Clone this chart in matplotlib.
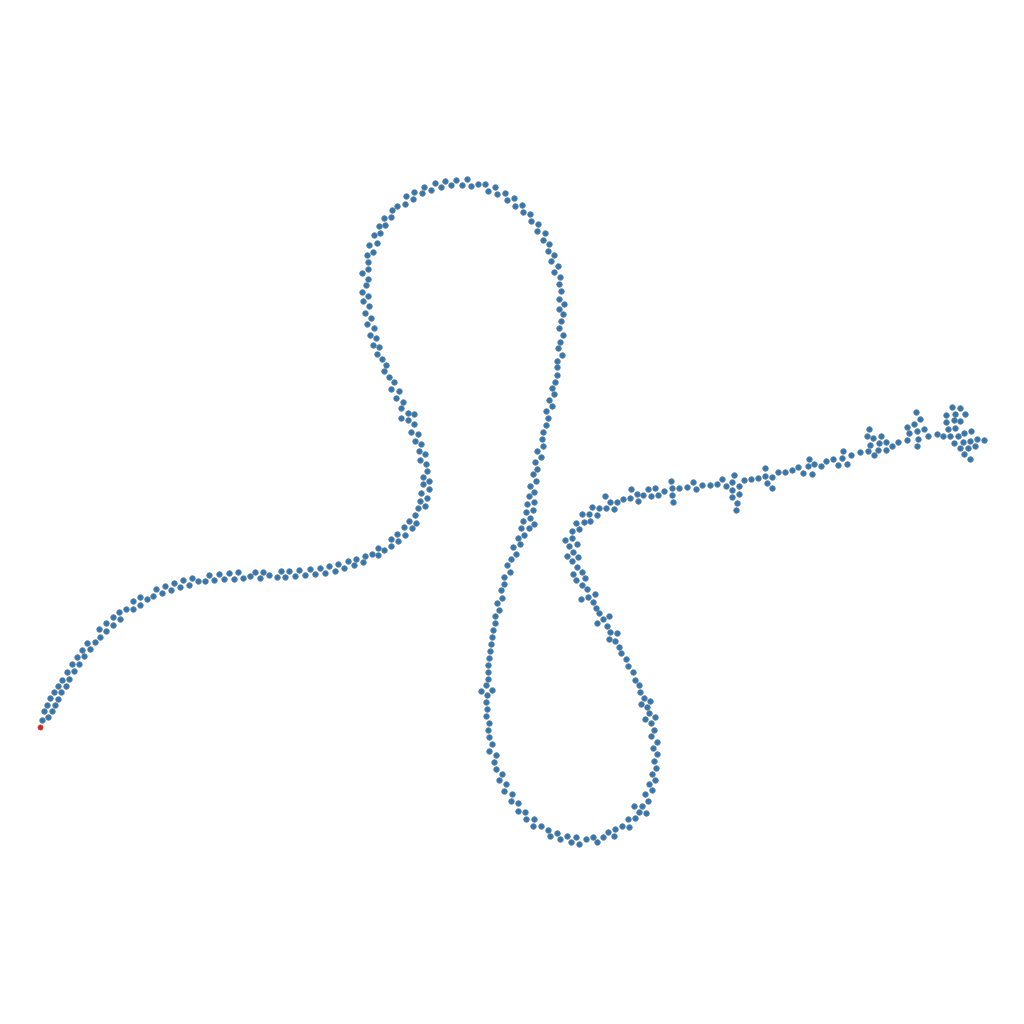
import matplotlib
matplotlib.use("Agg")
import matplotlib.pyplot as plt

# node positions (pixel-like units, y grows downward)
start_x = [40.0]
start_y = [727.3]

node_x = [
    # left tail
    42.3, 48.3, 44, 52.3, 47.3, 55.3, 50.3, 58.3, 54, 61.3, 57.7, 66, 62.3, 69.3, 66.7, 74.3,
    72, 79.3, 77.3, 84.3, 82.3, 90.3, 87.3, 95.3, 100, 99.3, 106.3, 106.3, 113.3, 112.7, 120.3,
    119.3, 126.3, 133.3, 133.3, 140.3, 140.3, 147.3, 153.3, 156.3, 162.3, 165.3, 171.3, 174.3,
    180.3, 183.3, 189.3, 192.3, 198.3, 205.3, 209.3, 214.3, 219.3, 224.3, 229,
    234.3, 238.3, 243.3, 250.3, 255.3, 260.3, 263.3, 269.3, 277.3, 281, 285.3, 289.3, 295.3,
    299.3, 305.3, 310.3, 315.3, 320.3, 325.3, 329.3, 335.3, 338.3, 344.3, 348.3, 354.3, 356.3,
    363.3, 365.3, 372.3, 378.3, 378.3, 384.3, 391.3, 391.3, 398.3, 397.3, 405.3, 404.3, 412.3,
    409.3, 416.3, 415.3, 418.3, 425.3, 420.3, 427.3, 421.3, 429.3, 423.3, 429.3,
    # left bulge
    423.3, 427.3, 426.3, 420.3, 425.3, 419, 421.3, 415.3, 418.3, 411.3, 414.3, 408.3, 401.3,
    414.3, 408.3, 401.3, 403.3,
    396.3, 391.3, 399.3, 394.3, 389.3, 384.3, 386.3, 382.3, 377.3, 379.3, 373.3, 376.3, 370.3,
    374.3, 367.3, 371.3, 365.3, 369.3, 363.3, 368.3, 362.3,
    # top loop
    366.3, 368.3, 362.3, 368.3, 368.3, 367.3, 373.3, 369.3, 376.7, 374.3, 380.3, 379.3, 385.3,
    384.3, 391.3, 392.3, 397.3, 405.3, 406.3, 413.3, 414.3, 421.7, 424.3, 431.3, 435.3, 441.3,
    445.3, 451.3, 456.3, 462.3, 467.3, 471.3, 478.3, 485.3, 488.3, 495.3, 497.3, 505.3, 507.3,
    514.3, 515.3, 522.3, 523.3, 530.3, 531.3, 538.3, 537.3, 544.7, 543.3, 549.3, 548.3, 554.3,
    551.3, 558.3, 554.3, 560, 559.3,
    561, 559, 564, 559, 563.3, 561, 559.3, 563.3, 560, 558, 562, 557, 557, 557.3, 555.3, 552.3,
    554.3, 549.3, 552.3, 546.3, 548.3,
    # middle descent
    546.3, 543.3, 542.3, 543.3, 537.3, 541.3, 535.3, 537.3, 533.3, 536.3, 530.3, 534.3, 529.3,
    534.3, 527.3, 533.3, 526.3, 530.3, 523.3, 534.3, 529.3, 521.3, 524.3, 518.3, 520.3, 513.3,
    516.3, 511.3,
    507.3, 510.3, 504.3, 504.3, 501.3, 502.3, 497.3, 499.3, 495.3, 495.3, 493.3, 492.3, 491.3,
    490.3, 489.3, 488.3, 488.3, 488.3, 486.3, 481.3, 492.3, 487.3,
    # bottom loop
    486.3, 487.3, 486.3, 489.3, 488.3, 489.3, 492.3, 489.3, 496.3, 494.3, 496.3, 502.3, 499.3,
    506.3, 504.3, 512.3, 511.3, 518.3, 518.3, 525.3, 526.3, 534.3, 533.3, 541.3, 548.3, 550.3,
    557.3, 560.3, 567.3, 571.3, 576.3, 579.3, 586.3, 593.3, 597.3, 603.3, 608.3, 614.3, 615.3,
    622.3, 629.3, 628.3, 635.3, 639.3, 646.3, 634.3, 642.3, 648.3, 645.3, 652.3, 649.3, 655.3,
    652.3, 656.3, 654.3, 657.3, 652.7, 657.3, 651.3, 654.3, 651.3, 645.3, 655.3, 649.3, 647.3,
    650.3, 641.3, 644.3, 640.3, 639.3, 635.3,
    # right ascent
    633.3, 628.3, 626.3, 621.3, 619.3, 615.3, 609.3, 617.3, 610.3, 607.3, 597.3, 609.3, 603.3,
    599.3, 596.3, 593.3, 595.3, 588.3, 581.3, 587.3, 582.3, 585.3, 576.3, 582.3, 573.3, 577.3,
    572.3, 578.3, 567.3, 573.3, 577.3, 569.3, 565.3, 572.3, 572.3, 579.3, 576.3, 584.3, 590.3,
    582.3, 589.3, 597.3, 592.3, 599.3, 606.3, 614.3, 605.3, 610.3, 617.3, 623.3, 630.3, 631.3,
    637.3, 638.3, 643.3, 648.3, 651.3, 655.3, 658.3, 664.3, 671.3, 672.3, 672.3, 673.3, 679.3,
    # right arm
    687.3, 693.3, 696.3, 702.3, 710.3, 717.3, 722.3, 726.3, 732.3, 734.3, 739.3, 732.3, 739.3,
    732.3, 737.3, 736.3, 744.3, 751.3, 758.3, 765.3, 765.3, 772.3, 767.3, 772.3, 778.3, 785.3,
    792.3, 798.3,
    803.3, 808.3, 812.3, 809.3, 814.3, 821.3, 826.3, 833.3, 838.3, 842.3, 847.3, 843.3, 851.3,
    860.3, 868.3, 874.3, 870.3, 878.3, 867.3, 869.3, 873.3, 879.3, 881.3, 886.3, 886.3, 892.3,
    898.3, 907.3, 909.3, 907.3, 914.3, 920.3, 916.3, 917.3, 924.3, 918.3, 917.3, 928.3, 937.3,
    943.3, 950.3, 948.3, 955.3, 946.3, 954.3, 960.3, 946.3, 955.3, 965.3, 952.3, 960.3, 958.3,
    964.3, 971.3, 954.3, 963.3, 970.3, 977.3, 984.3, 960.3, 968.3, 975.3, 964.3, 970.3,
]

node_y = [
    # left tail
    720.3, 717, 710.7, 711.3, 705.3, 705.3, 698.3, 699, 692.3, 692.3, 686.3, 686.3, 680.3, 679.3,
    672, 671.3, 664.3, 664.3, 657.3, 656.3, 650, 649.3, 643, 642, 637, 629.3, 631.3, 623.3, 624.7,
    617.3, 619.3, 612.3, 609.3, 609.3, 601.3, 605, 597.3, 599.3, 596, 589.3, 593.3, 586, 590.3,
    582.7, 587.3, 580.3, 585, 578.3, 581.3, 581.3, 575.3, 580.3, 574.3, 579.3, 573.3,
    579.3, 572.3, 578, 576.3, 572.3, 578.3, 572.3, 575.3, 577.3, 571.3, 577.3, 571.3, 576.3,
    570.3, 575.3, 569.3, 574.3, 568.3, 573.3, 566.3, 571.3, 564.3, 568.3, 561.3, 565.3, 559.3,
    562.3, 556.3, 554.3, 548.3, 555.3, 550.3, 546.3, 539.3, 541.3, 534.3, 535.3, 527.3, 528.3,
    521.3, 523.3, 515.3, 508.3, 506.3, 501.3, 498.3, 493.3, 489.3, 484.3, 481,
    # left bulge
    477.3, 471.3, 464.3, 460.3, 454.3, 451.3, 444.3, 441.3, 434.3, 432.3, 424.3, 420.3, 418.3,
    414.3, 413.3, 408.3, 402,
    398.3, 389.3, 391.3, 382.3, 377.3, 371.3, 365.3, 359.3, 354.3, 347.3, 345.3, 338.3, 335.3,
    328.3, 324.3, 318.3, 313.3, 306.3, 301.3, 296.3, 292.3,
    # top loop
    285.3, 279.3, 273.3, 269.3, 262, 255.3, 252.3, 245.3, 243, 235.3, 233.3, 226.3, 225.3,
    218.3, 217.3, 210.3, 206.3, 204.3, 196.3, 199.3, 192.3, 193.3, 187.3, 190.3, 183.3, 187.3,
    181.3, 185.3, 180.3, 185.3, 179.3, 186.3, 184.3, 184.3, 191.3, 187.3, 194.3, 193.3, 200.3,
    198.3, 206.3, 205.3, 212.3, 214.3, 221.3, 224.3, 231.3, 233.3, 240.3, 243.7, 251.3, 255.3,
    261.3, 265.7, 272.3, 277.3, 284.3,
    291.3, 299.3, 304.3, 309.3, 314.3, 321.3, 328.3, 335.3, 341.7, 348.3, 355.3, 360.7, 367.3,
    375.3, 382.3, 388.3, 394.3, 399.7, 406.3, 411.3, 418.3,
    # middle descent
    425.3, 432.3, 439.3, 446.3, 451.3, 457.3, 462.3, 469.3, 474.3, 481.3, 486.3, 492.3, 496.3,
    501.7, 504.3, 510.3, 512.3, 518.3, 521.3, 524.3, 528.3, 528.3, 535.3, 538.3, 544.3, 546.7,
    554.3, 559.3,
    565.3, 572.3, 577, 584.3, 590.3, 598, 603, 610.3, 616.3, 623.3, 630.3, 637.3, 643.7, 651.3,
    658.3, 665.3, 672.3, 678.7, 685.3, 691.3, 690.3, 695.3,
    # bottom loop
    702.3, 709.3, 716.3, 723.3, 730.3, 737.3, 744.3, 751.3, 755.3, 762, 769.3, 774.3, 780.3,
    784.3, 791.3, 794.3, 801.3, 803.3, 811.3, 812.3, 819.3, 819.3, 826.3, 826.3, 830.3, 836.3,
    833.3, 839.3, 836.3, 842.3, 837.3, 844.3, 839.3, 837.3, 842.3, 837.3, 832.3, 836.3, 829.3,
    826.3, 827.3, 819.3, 818.3, 812.3, 813.3, 806.3, 806.3, 801.3, 794.3, 790.3, 784.3, 780.3,
    774.3, 768.3, 761.3, 754.3, 748.3, 742.3, 736.3, 730.3, 723.3, 719.3, 717.3, 713.3, 707.3,
    701.3, 704.3, 698.3, 692.3, 685.3, 680,
    # right ascent
    672.3, 666.3, 659.3, 653.3, 646.7, 641.3, 639.3, 633.3, 632.3, 626.3, 622.7, 616.3, 619.3,
    613.3, 608.3, 602.3, 594.3, 597.3, 599.3, 589.3, 585.3, 578.3, 580.3, 572.3, 574.3, 567.3,
    561.3, 557.3, 556.3, 552.3, 544.3, 546.3, 540.3, 538.3, 531.3, 529.3, 523.3, 522.3, 521.3,
    514.3, 514.3, 515.3, 507.3, 508.3, 508.3, 509.3, 496.3, 502.3, 502.3, 499.3, 498.3, 489.3,
    494.3, 501.3, 495.3, 489.3, 496.3, 488.3, 495.3, 491, 481, 488.3, 495.3, 502.3, 488.3,
    # right arm
    487.3, 482.3, 489.3, 485.3, 485.3, 484.3, 479.3, 486.3, 482.3, 475.3, 486.3, 490.3, 494.3,
    497.3, 503.3, 510.3, 480.3, 479.3, 478.3, 468.3, 476.3, 477.3, 483.3, 488.3, 472.3, 472.3,
    470.3, 467.3,
    473.3, 466.3, 474.3, 459.3, 464.3, 466.3, 461.3, 459.3, 465.3, 458.3, 464.3, 451.3, 455.3,
    452.3, 451.3, 455.3, 445.3, 450.3, 436.3, 429.3, 438.3, 443.3, 436.3, 442.3, 450.3, 446.3,
    442.3, 440.3, 433.3, 427.3, 424.3, 419.3, 412.3, 431.3, 429.3, 439.3, 446.3, 436.3, 434.3,
    436.3, 436.3, 429.3, 428.3, 422.3, 420.3, 421.3, 415.3, 414.3, 414.3, 407.3, 408.3, 436.3,
    433.3, 431.3, 443.3, 442.3, 441.3, 439.3, 440.3, 448.3, 448.3, 446.3, 454.3, 459.3,
]

fig = plt.figure(figsize=(10.24, 10.24), dpi=100)
ax = fig.add_axes([0, 0, 1, 1])
ax.scatter(node_x, node_y, s=16, c='#2f78b6', edgecolors='#6f7f8f', linewidths=0.5, zorder=2)
ax.scatter(start_x, start_y, s=14, c='#e0201b', edgecolors='#a05050', linewidths=0.4, zorder=3)
ax.set_xlim(0, 1024)
ax.set_ylim(1024, 0)
ax.axis('off')
fig.savefig('out.png', dpi=100, facecolor='white')
